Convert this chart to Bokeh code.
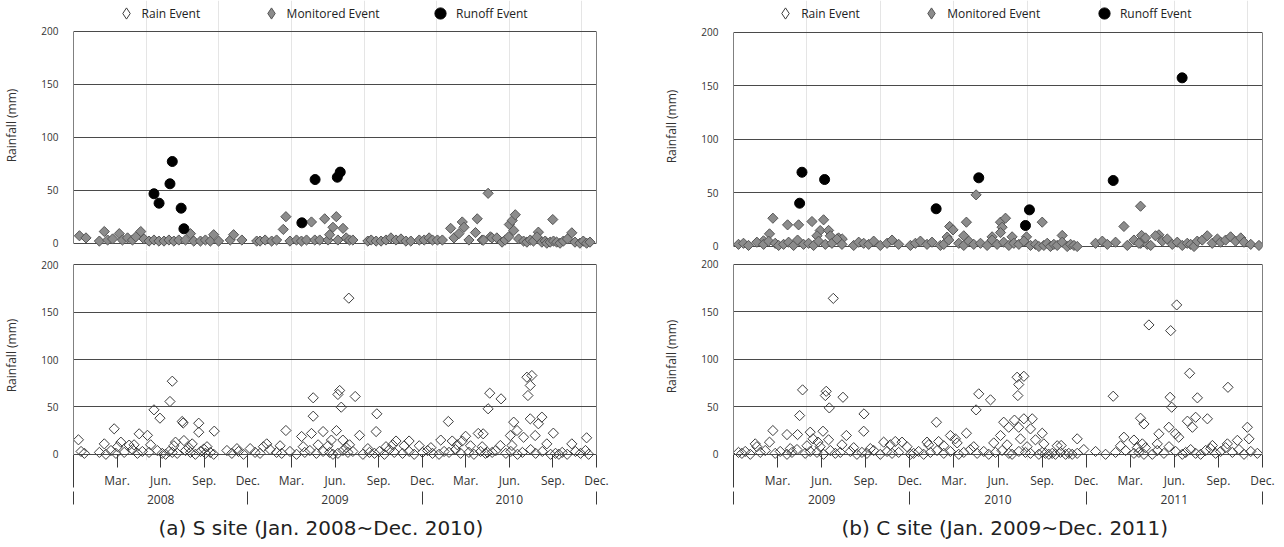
import numpy as np
from bokeh.plotting import figure
from bokeh.layouts import row, column
from bokeh.models import Range1d, FixedTicker, LinearAxis, Grid, Legend, LegendItem, Title
from bokeh.embed import file_html
from bokeh.resources import INLINE

# ---------------- axis labels ----------------
Y_TICKS = [0, 50, 100, 150, 200]
MONTH_TICKS = [3, 6, 9, 12, 15, 18, 21, 24, 27, 30, 33, 36]
MONTH_LABELS = ["Mar.", "Jun.", "Sep.", "Dec."] * 3
YEAR_POS = [6, 18, 30]
YEAR_EDGES = [0, 12, 24, 36]
YEARS_A = ["2008", "2009", "2010"]
YEARS_B = ["2009", "2010", "2011"]
CAPTION_A = "(a) S site (Jan. 2008~Dec. 2010)"
CAPTION_B = "(b) C site (Jan. 2009~Dec. 2011)"
LEGEND_LABELS = ["Rain Event", "Monitored Event", "Runoff Event"]

# ---------------- (a) S site: x = months since Jan. 2008 ----------------
A_RUN_M = [5.54, 5.89, 6.64, 6.80, 7.41, 7.60, 15.72, 16.63, 18.16, 18.36]
A_RUN_V = [46.6, 37.7, 56.0, 77.0, 33.0, 13.6, 19.2, 60.0, 62.2, 67.0]

A_MON_M = [0.41, 0.86, 1.78, 2.12, 2.35, 2.69, 3.15, 3.37, 3.72, 4.06,
           4.29, 4.63, 4.86, 5.20, 5.54, 5.88, 6.23, 6.57, 6.91, 7.25,
           7.71, 8.05, 8.28, 8.74, 9.08, 9.42, 9.65, 9.99, 10.79, 11.02,
           11.59, 12.61, 12.84, 13.19, 13.64, 13.98, 14.44, 14.62, 14.90, 15.35,
           15.69, 16.04, 16.38, 16.61, 16.95, 17.29, 17.52, 17.63, 17.86, 18.09,
           18.20, 18.55, 18.77, 19.00, 19.23, 20.26, 20.49, 20.83, 21.17, 21.51,
           21.85, 22.20, 22.54, 22.88, 23.22, 23.80, 24.14, 24.48, 24.71, 25.05,
           25.39, 25.96, 26.19, 26.53, 26.76, 26.88, 27.22, 27.67, 27.79, 28.13,
           28.54, 28.70]
A_MON_V = [7, 5, 2, 11, 3, 4, 9, 3, 5, 3,
           6, 11, 4, 2, 3, 2, 2, 3, 2, 3,
           3, 9, 2, 2, 3, 2, 8, 2, 3, 8,
           3, 2, 2, 3, 2, 3, 13, 25, 2, 3,
           2, 3, 20, 3, 3, 23, 3, 8, 15, 25,
           3, 14, 5, 3, 3, 2, 3, 2, 2, 3,
           5, 3, 4, 2, 2, 3, 3, 5, 3, 3,
           3, 14, 5, 9, 20, 15, 3, 10, 23, 3,
           47, 6]
A_MON2_M = [28.80, 30.00, 30.20, 30.30, 30.41, 32.00, 32.99, 34.30,
            28.22, 29.14, 29.50, 29.71, 29.95, 30.64, 30.98, 31.21, 31.44, 31.66,
            31.90, 32.24, 32.47, 32.58, 32.81, 33.04, 33.26, 33.49, 33.72, 34.00,
            34.52, 34.86, 35.09, 35.32, 35.55]
A_MON2_V = [5, 17.6, 21.4, 12, 26.8, 10.4, 22.3, 9.8,
            3, 5, 1, 3, 6, 4, 2, 1, 3, 2,
            6, 1, 2, 0, 1, 2, 1, 0, 2, 4,
            1, 0, 2, 0, 1]

A_RAIN_PEAK_M = [0.34, 2.12, 2.80, 3.26, 3.83, 4.52, 5.09, 5.54, 5.95, 6.64,
                 6.80, 7.02, 7.48, 7.55, 7.60, 8.17, 8.62, 8.62, 8.97, 9.69,
                 13.30, 14.62, 15.70, 16.38, 16.50, 16.50, 17.18, 17.75, 18.10, 18.20,
                 18.32, 18.43, 18.54, 18.95, 19.00, 19.39, 19.69, 20.83, 20.88, 22.20,
                 22.76, 23.10, 25.28, 25.80, 26.07, 26.76, 26.99, 27.86, 28.20, 28.54,
                 28.65, 29.43, 30.30, 31.44, 32.24, 32.00, 33.03, 30.53, 30.07, 30.98,
                 31.78, 35.32, 34.30, 29.38, 30.18, 32.58, 31.55, 31.21, 31.44, 31.28]
A_RAIN_PEAK_V = [15.3, 11, 26.9, 12.8, 9.7, 21.6, 20, 46.9, 38.1, 55.7,
                 77.1, 12.8, 34.6, 33, 14.5, 11, 32.8, 23.3, 5.6, 24.4,
                 11, 25.1, 18.8, 22, 59.6, 40.2, 24, 15, 25, 63.1,
                 67.3, 49.7, 15, 164.7, 10, 61, 20, 24, 42.7, 14,
                 9, 14, 15, 34.6, 14, 14, 19, 22, 21.6, 48,
                 64.5, 58.5, 33.9, 37.4, 39.2, 32.2, 22.3, 25.1, 19.8, 18,
                 19.8, 17.4, 11, 9.3, 9.3, 11, 83.1, 81.3, 72.6, 62]
A_RAIN_MID_M = [3.03, 4.17, 5.31, 6.91, 7.94, 9.19, 11.25, 12.16, 13.07, 14.22, 15.81,
                16.84, 17.52, 18.77, 20.26, 21.51, 21.97, 23.80, 24.60, 26.42, 27.33, 28.13]
A_RAIN_MID_V = [8, 10, 10, 9, 7, 8, 6, 6, 8, 9, 8, 10, 9, 7, 6, 8, 10, 9, 7, 10, 9, 8]
A_RAIN_BASE_M = [0.52, 0.75, 1.78, 2.23, 2.58, 2.92, 3.49, 4.06, 4.40, 4.74,
                 5.20, 5.77, 6.11, 6.34, 6.57, 6.80, 7.14, 7.71, 8.05, 8.39,
                 8.74, 9.08, 9.42, 9.65, 10.56, 10.90, 11.36, 11.70, 12.50, 12.84,
                 13.53, 13.98, 14.33, 14.90, 15.35, 15.92, 16.27, 16.72, 17.18, 17.63,
                 17.86, 18.20, 18.55, 18.89, 19.23, 19.92, 20.37, 20.72, 21.06, 21.40,
                 21.74, 22.08, 22.65, 23.11, 23.45, 24.02, 24.37, 24.71, 25.16, 25.51,
                 25.85, 26.30, 26.65, 27.22, 27.56, 28.02, 28.36, 28.82,
                 28.50, 29.07, 29.76, 30.10, 30.56, 30.90, 31.47, 31.81, 32.27, 32.84,
                 33.18, 33.41, 33.64, 33.98, 34.55, 34.90, 35.24, 35.46]
A_RAIN_BASE_V = [3, 1, 2, 0, 4, 1, 2, 5, 1, 3,
                 2, 4, 1, 0, 3, 2, 1, 4, 2, 0,
                 3, 1, 2, 0, 4, 1, 3, 0, 2, 1,
                 5, 2, 1, 3, 0, 2, 4, 1, 3, 2,
                 0, 1, 4, 2, 3, 0, 2, 1, 3, 0,
                 5, 2, 1, 3, 0, 2, 4, 1, 0, 3,
                 2, 5, 1, 2, 0, 3, 1, 2,
                 2, 4, 1, 3, 0, 2, 5, 1, 3, 0,
                 1, 0, 2, 0, 3, 1, 4, 0]

# ---------------- (b) C site: x = months since Jan. 2009 ----------------
B_RUN_M = [4.50, 4.66, 6.20, 13.79, 16.69, 19.87, 20.14, 25.84, 30.53]
B_RUN_V = [40.4, 69.3, 62.5, 35.2, 64.1, 19.6, 34.2, 61.6, 157.4]

B_MON_PEAK_M = [16.51, 27.70, 26.57, 27.77, 2.68, 2.45, 3.68, 4.43, 5.34, 6.13,
                5.90, 6.47, 6.59, 7.15, 7.40, 5.68, 2.04, 14.71, 14.94, 14.54,
                15.67, 15.85, 18.17, 18.51, 18.28, 18.17, 17.60, 18.96, 19.94, 21.01,
                22.37, 28.95]
B_MON_PEAK_V = [48.2, 37.6, 18.7, 10.3, 26.4, 11.8, 20.2, 20.2, 23.3, 24.9,
                14.9, 15, 10, 8, 7, 10, 5.3, 18.7, 15.5, 8.8,
                10, 22.7, 22.7, 26.4, 18, 13, 9, 9, 9, 22.7,
                10.3, 10.9]
B_MON_BASE_M = [0.34, 0.68, 1.02, 1.59, 2.05, 2.39, 2.84, 3.07, 3.41, 3.75,
                4.09, 4.36, 4.77, 5.11, 5.45, 5.79, 6.25, 6.70, 7.04, 7.38,
                8.18, 8.52, 8.86, 9.20, 9.54, 9.99, 10.45, 10.79, 11.24, 12.04,
                12.38, 12.72, 13.17, 13.51, 14.08, 14.31, 14.65, 15.33, 15.67, 16.01,
                16.35, 16.81, 17.26, 17.60, 17.94, 18.39, 18.74, 19.08, 19.42, 19.76,
                20.21, 20.55, 20.78, 21.12, 21.35, 21.57, 21.80, 22.03, 22.37, 22.71,
                22.94, 23.17, 23.39, 24.64, 25.10, 25.44, 26.00, 26.80, 27.25, 27.71,
                28.16,
                27.59, 28.04, 28.39, 28.72, 29.18, 29.52, 29.86, 30.20, 30.54, 30.88,
                31.11, 31.34, 31.56, 31.90, 32.24, 32.58, 32.93, 33.15, 33.49, 33.83,
                34.17, 34.52, 34.74, 35.20, 35.76]
B_MON_BASE_V = [2, 3, 1, 4, 2, 5, 3, 1, 2, 4,
                1, 6, 2, 3, 1, 5, 2, 3, 7, 2,
                1, 4, 3, 2, 5, 1, 3, 6, 2, 1,
                3, 5, 2, 4, 1, 2, 6, 3, 1, 5,
                2, 3, 1, 6, 2, 4, 1, 3, 2, 5,
                1, 2, 0, 1, 3, 0, 2, 1, 4, 0,
                2, 1, 0, 3, 5, 2, 4, 1, 6, 3,
                2,
                3, 8, 1, 10, 5, 7, 2, 4, 1, 3,
                2, 0, 5, 6, 10, 3, 7, 4, 6, 9,
                5, 8, 4, 2, 1]

B_RAIN_PEAK_M = [6.79, 4.70, 4.50, 6.31, 6.25, 6.52, 7.45, 8.88, 8.86, 2.68,
                 3.64, 4.36, 5.22, 6.09, 5.41, 5.75, 6.47, 7.68, 1.48, 2.45,
                 13.81, 16.69, 17.49, 16.51, 19.30, 19.76, 19.41, 19.35, 18.39, 19.76,
                 20.33, 19.12, 18.73, 18.17, 19.41, 20.21, 21.01, 20.55, 19.53, 23.39,
                 22.30, 25.84, 27.70, 27.93, 26.57, 27.25, 27.82, 14.76, 15.10, 15.85,
                 10.22, 11.01, 11.47, 13.17, 13.96,
                 30.16, 28.27, 29.75, 31.04, 33.65, 29.71, 31.57, 29.82, 31.45, 32.25,
                 34.97, 30.89, 31.23, 29.63, 30.08, 28.95, 30.30, 28.84, 33.61, 35.08,
                 34.29, 32.59]
B_RAIN_PEAK_V = [164.3, 67.9, 40.8, 66.4, 61.9, 48.9, 60.1, 42.6, 24.3, 25,
                 20.8, 20.8, 23.3, 24.3, 16.3, 12.8, 15.3, 19.8, 11, 12.8,
                 33.8, 63.7, 57.4, 46.8, 81.2, 82.2, 73.5, 61.9, 33.8, 37.4,
                 37.4, 36, 28.5, 19.8, 28.5, 26.8, 22.2, 15.3, 16.3, 16.3,
                 9.3, 61.2, 38, 32, 18, 15, 11, 19.8, 16.3, 22.2,
                 12.8, 13.5, 12.8, 12.8, 13.5,
                 157.4, 136.3, 130.3, 85.4, 70.6, 60.1, 59.5, 49.6, 39, 37.4,
                 28.5, 34.9, 28.5, 28.5, 21.6, 21.6, 18, 11, 11, 16.3,
                 14.7, 9.3]
B_RAIN_MID_M = [1.59, 3.86, 5.00, 5.90, 7.38, 8.18, 9.31, 10.67, 11.81, 13.28, 14.31,
                15.22, 16.35, 17.71, 18.62, 19.98, 21.12, 22.03, 23.84, 26.34, 27.48]
B_RAIN_MID_V = [8, 6, 9, 8, 10, 7, 6, 10, 8, 10, 9, 12, 8, 12, 10, 8, 11, 9, 5, 9, 7]
B_RAIN_BASE_M = [0.34, 0.57, 0.80, 1.14, 1.82, 2.16, 2.84, 3.18, 3.64, 3.98,
                 4.32, 4.88, 5.22, 5.68, 6.13, 6.59, 6.93, 7.27, 7.95, 8.40,
                 8.74, 9.08, 9.54, 9.99, 10.45, 10.79, 11.24, 12.04, 12.26, 12.60,
                 12.94, 13.40, 13.85, 14.31, 14.76, 15.33, 15.67, 16.12, 16.58, 17.03,
                 17.37, 17.83, 18.28, 18.74, 18.96, 19.42, 19.87, 20.21, 20.78, 21.01,
                 21.23, 21.46, 21.69, 21.91, 22.25, 22.60, 22.82, 23.05, 23.39, 24.64,
                 25.32, 26.00, 26.68, 27.25, 27.93,
                 27.59, 28.04, 28.50, 28.84, 29.29, 29.64, 30.09, 30.54, 30.77, 31.11,
                 31.45, 31.79, 32.13, 32.47, 32.81, 33.15, 33.49, 33.95, 34.40, 34.74,
                 35.20, 35.65]
B_RAIN_BASE_V = [2, 1, 3, 0, 2, 4, 1, 3, 0, 2,
                 5, 1, 3, 2, 0, 4, 1, 2, 3, 0,
                 2, 1, 4, 0, 3, 1, 2, 0, 1, 3,
                 0, 2, 4, 1, 3, 0, 2, 5, 1, 3,
                 0, 2, 4, 1, 0, 3, 2, 1, 0, 2,
                 1, 0, 1, 0, 2, 0, 1, 0, 1, 3,
                 0, 2, 4, 1, 0,
                 2, 7, 0, 4, 1, 8, 3, 0, 2, 5,
                 1, 0, 4, 6, 1, 3, 7, 2, 5, 0,
                 3, 1]

# ---------------- styling ----------------
FONT = "Open Sans"
TEXT_COLOR = "#333333"
GRID_COLOR = "#4a4a4a"
BORDER_COLOR = "#808080"
TICK_COLOR = "#3a3a3a"
MON_FILL = "#8c8c8c"
MON_LINE = "#555555"
RAIN_LINE = "#3c3c3c"
DIAMOND = np.pi / 4
KEY_SLOT = 28


def add_y_axes(p):
    left = LinearAxis(ticker=FixedTicker(ticks=Y_TICKS), bounds=(0, 200),
                      axis_label="Rainfall (mm)", axis_label_standoff=18,
                      axis_label_text_font=FONT, axis_label_text_font_size="12px",
                      axis_label_text_font_style="normal", axis_label_text_color=TEXT_COLOR,
                      major_label_text_font=FONT, major_label_text_font_size="10px",
                      major_label_text_color=TEXT_COLOR, major_label_standoff=15,
                      major_tick_out=0, major_tick_in=0, minor_tick_out=0, minor_tick_in=0,
                      axis_line_color=BORDER_COLOR)
    p.add_layout(left, "left")
    right = LinearAxis(ticker=FixedTicker(ticks=[]), bounds=(0, 200),
                       axis_line_color=BORDER_COLOR, major_tick_out=0, major_tick_in=0,
                       minor_tick_out=0, minor_tick_in=0,
                       major_label_text_font_size="0px", major_label_standoff=0)
    p.add_layout(right, "right")
    grid = Grid(dimension=1, ticker=FixedTicker(ticks=Y_TICKS),
                grid_line_color=GRID_COLOR, grid_line_width=1)
    p.add_layout(grid)


def base_fig(width, height, bl, br, bt, bb, yr):
    return figure(width=width, height=height, x_range=Range1d(0, 36), y_range=Range1d(*yr),
                  output_backend="svg", toolbar_location=None,
                  x_axis_location=None, y_axis_location=None,
                  min_border_left=bl, min_border_right=br,
                  min_border_top=bt, min_border_bottom=bb,
                  outline_line_color=None, background_fill_color="white",
                  border_fill_color="white")


def make_top(width, height, bl, br, yr, mon_m, mon_v, run_m, run_v, legend_x):
    # the frame reaches the top edge so that the legend row sits inside it
    p = base_fig(width, height, bl, br, 0, 0, yr)
    add_y_axes(p)
    p.scatter(mon_m, mon_v, marker="square", angle=DIAMOND, size=7.2,
              fill_color=MON_FILL, line_color=MON_LINE, line_width=1)
    run = p.scatter(run_m, run_v, marker="circle", size=10, fill_color="black",
                    line_color="black")
    rain_key = p.scatter(x=[0], y=[-100], marker="diamond", size=10,
                         fill_color="white", line_color=RAIN_LINE)
    mon_key = p.scatter(x=[0], y=[-100], marker="diamond", size=10,
                        fill_color=MON_FILL, line_color=MON_LINE)
    keys = [rain_key, mon_key, run]
    for label, key, lx in zip(LEGEND_LABELS, keys, legend_x):
        legend = Legend(items=[LegendItem(label=label, renderers=[key])],
                        orientation="horizontal",
                        location=(lx, height - 13.3 - KEY_SLOT / 2),
                        glyph_width=KEY_SLOT, glyph_height=KEY_SLOT, label_height=KEY_SLOT,
                        label_standoff=2, padding=0, margin=0, border_line_color=None,
                        background_fill_alpha=0, label_text_font=FONT,
                        label_text_font_size="12px", label_text_color="#222222")
        p.add_layout(legend)
    return p


def make_bottom(width, height, bl, br, yr, rain_m, rain_v, years, caption, cap_offset):
    p = base_fig(width, height, bl, br, 0, 87, yr)
    add_y_axes(p)
    p.scatter(rain_m, rain_v, marker="square", angle=DIAMOND, size=7.2,
              fill_color=None, line_color=RAIN_LINE, line_width=1)
    month_axis = LinearAxis(ticker=FixedTicker(ticks=MONTH_TICKS, minor_ticks=[0]),
                            major_label_overrides=dict(zip(MONTH_TICKS, MONTH_LABELS)),
                            major_tick_in=6, major_tick_out=7, minor_tick_in=6, minor_tick_out=27,
                            major_tick_line_color=TICK_COLOR, minor_tick_line_color=TICK_COLOR,
                            axis_line_color=None, major_label_standoff=-16,
                            major_label_text_font=FONT, major_label_text_font_size="12px",
                            major_label_text_color=TEXT_COLOR)
    p.add_layout(month_axis, "below")
    year_axis = LinearAxis(ticker=FixedTicker(ticks=YEAR_POS, minor_ticks=YEAR_EDGES),
                           major_label_overrides=dict(zip(YEAR_POS, years)),
                           major_tick_in=0, major_tick_out=0, minor_tick_in=0, minor_tick_out=13,
                           minor_tick_line_color=TICK_COLOR, axis_line_color=None,
                           major_label_standoff=-10, major_label_text_font=FONT,
                           major_label_text_font_size="12px", major_label_text_color=TEXT_COLOR)
    p.add_layout(year_axis, "below")
    cap = Title(text=caption, align="left", offset=cap_offset, standoff=15,
                text_font="DejaVu Sans", text_font_size="20px", text_font_style="normal",
                text_color="#222222")
    p.add_layout(cap, "below")
    return p


top_a = make_top(650, 250, 71, 54, (-6.88, 228.75),
                 A_MON_M + A_MON2_M, A_MON_V + A_MON2_V, A_RUN_M, A_RUN_V,
                 [38.6, 183.6, 353])
bot_a = make_bottom(650, 297, 71, 54, (-6.54, 214.98),
                    A_RAIN_PEAK_M + A_RAIN_MID_M + A_RAIN_BASE_M,
                    A_RAIN_PEAK_V + A_RAIN_MID_V + A_RAIN_BASE_V,
                    YEARS_A, CAPTION_A, 85)
top_b = make_top(634, 252, 83, 22, (-5.6, 229.58),
                 B_MON_PEAK_M + B_MON_BASE_M, B_MON_PEAK_V + B_MON_BASE_V, B_RUN_M, B_RUN_V,
                 [38.2, 184.2, 356.9])
bot_b = make_bottom(634, 295, 83, 22, (-6.53, 212.64),
                    B_RAIN_PEAK_M + B_RAIN_MID_M + B_RAIN_BASE_M,
                    B_RAIN_PEAK_V + B_RAIN_MID_V + B_RAIN_BASE_V,
                    YEARS_B, CAPTION_B, 108)

layout = row(column(top_a, bot_a, spacing=0), column(top_b, bot_b, spacing=0), spacing=0)

with open("out.html", "w") as f:
    f.write(file_html(layout, INLINE))
